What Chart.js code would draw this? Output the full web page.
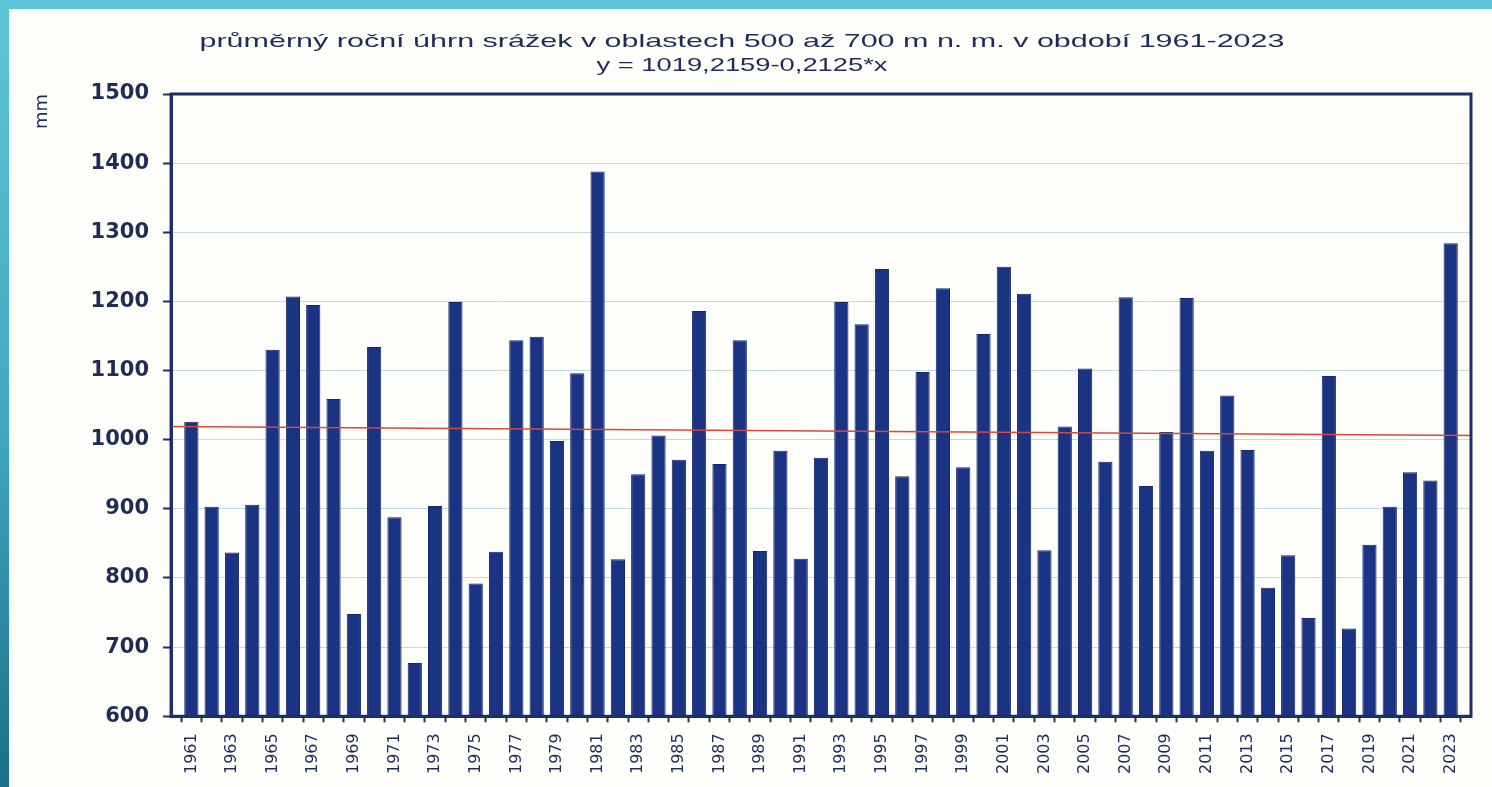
<!DOCTYPE html>
<html>
<head>
<meta charset="utf-8">
<script src="https://cdn.jsdelivr.net/npm/chart.js@4.4.0/dist/chart.umd.min.js"></script>
<style>
  html, body { margin: 0; padding: 0; }
  body {
    width: 1492px; height: 787px; overflow: hidden; position: relative;
    background: linear-gradient(180deg, #5cc5d7 0%, #3ea8bf 55%, #1c6f88 100%);
  }
  .panel { position: absolute; left: 9px; top: 9px; right: 0; bottom: 0; background: #fdfdf9; }
  canvas { position: absolute; left: 0; top: 0; }
</style>
</head>
<body>
<div class="panel"></div>
<canvas id="chart" width="1492" height="787"></canvas>
<script>
const years = [
  1961, 1962, 1963, 1964, 1965, 1966, 1967, 1968, 1969, 1970,
  1971, 1972, 1973, 1974, 1975, 1976, 1977, 1978, 1979, 1980,
  1981, 1982, 1983, 1984, 1985, 1986, 1987, 1988, 1989, 1990,
  1991, 1992, 1993, 1994, 1995, 1996, 1997, 1998, 1999, 2000,
  2001, 2002, 2003, 2004, 2005, 2006, 2007, 2008, 2009, 2010,
  2011, 2012, 2013, 2014, 2015, 2016, 2017, 2018, 2019, 2020,
  2021, 2022, 2023
];

// yearly precipitation, mm
const precip = [
  1026, 903, 837, 906, 1130, 1207, 1195, 1059, 748, 1134,
  888, 677, 904, 1199, 792, 838, 1144, 1149, 998, 1096,
  1388, 827, 950, 1006, 971, 1186, 965, 1144, 839, 984,
  828, 974, 1199, 1167, 1247, 947, 1098, 1219, 960, 1153,
  1250, 1211, 840, 1019, 1103, 968, 1206, 933, 1011, 1205,
  984, 1064, 985, 786, 833, 742, 1092, 727, 848, 903,
  953, 941, 1284
];

// trend line ends
const trendYears = [1960, 2024];
const trendValues = [1019, 1006];

const tickYears = [
  1961, 1963, 1965, 1967, 1969, 1971, 1973, 1975, 1977, 1979, 1981,
  1983, 1985, 1987, 1989, 1991, 1993, 1995, 1997, 1999, 2001, 2003,
  2005, 2007, 2009, 2011, 2013, 2015, 2017, 2019, 2021, 2023
];

const titleLines = [
  'průměrný roční úhrn srážek v oblastech 500 až 700 m n. m. v období 1961-2023',
  'y = 1019,2159-0,2125*x'
];

const navy = '#1e2f66';
const textColor = '#1f2c58';

// the source picture is stretched sideways, so the title is drawn the same way
const stretchedTitle = {
  id: 'stretchedTitle',
  afterDraw(chart) {
    const c = chart.ctx;
    const widths = [1085, 291];
    const ys = [42, 66];
    c.save();
    c.fillStyle = textColor;
    c.font = '19px "Liberation Sans", Arial, sans-serif';
    c.textAlign = 'center';
    c.textBaseline = 'middle';
    titleLines.forEach((t, i) => {
      const sx = widths[i] / c.measureText(t).width;
      c.save();
      c.translate(742, ys[i]);
      c.scale(sx, 1);
      c.fillText(t, 0, 0);
      c.restore();
    });
    c.restore();
  }
};

const frame = {
  id: 'frame',
  afterDatasetsDraw(chart) {
    const { ctx, chartArea: a } = chart;
    ctx.save();
    ctx.strokeStyle = navy;
    ctx.lineWidth = 3;
    ctx.strokeRect(a.left, a.top, a.right - a.left, a.bottom - a.top);
    ctx.restore();
  }
};

const ctx = document.getElementById('chart').getContext('2d');
new Chart(ctx, {
  type: 'bar',
  data: {
    datasets: [
      {
        type: 'line',
        data: trendYears.map((y, i) => ({ x: y, y: trendValues[i] })),
        borderColor: '#d6493c',
        borderWidth: 1.5,
        pointRadius: 0,
        order: 1
      },
      {
        type: 'bar',
        data: years.map((y, i) => ({ x: y, y: precip[i] })),
        backgroundColor: '#1a3383',
        borderColor: '#13286b',
        borderWidth: 1,
        barPercentage: 0.7,
        categoryPercentage: 1,
        order: 2
      }
    ]
  },
  options: {
    responsive: false,
    animation: false,
    layout: { padding: { left: 32, right: 21, top: 94, bottom: 2 } },
    plugins: { legend: { display: false }, tooltip: { enabled: false } },
    scales: {
      x: {
        type: 'linear',
        min: 1960,
        max: 2024,
        offset: false,
        afterBuildTicks: s => { s.ticks = years.map(v => ({ value: v })); },
        ticks: {
          autoSkip: false,
          minRotation: 90,
          maxRotation: 90,
          padding: 11,
          color: textColor,
          font: { family: '"DejaVu Sans"', size: 16 },
          callback: v => tickYears.includes(v) ? String(v) : ''
        },
        grid: { drawOnChartArea: false, tickLength: 6, tickColor: navy, tickWidth: 2 },
        border: { color: navy, width: 3 }
      },
      y: {
        min: 600,
        max: 1500,
        ticks: {
          stepSize: 100,
          padding: 14,
          color: textColor,
          font: { family: '"DejaVu Sans"', size: 21, weight: 'bold' },
          callback: v => String(v)
        },
        grid: { color: '#c6d9dc', lineWidth: 1, tickLength: 8, tickColor: navy, tickWidth: 2 },
        border: { color: navy, width: 3 },
        title: {
          display: true,
          text: 'mm',
          align: 'end',
          color: textColor,
          font: { family: '"DejaVu Sans"', size: 18 },
          padding: { top: 0, bottom: 23 }
        }
      }
    }
  },
  plugins: [frame, stretchedTitle]
});
</script>
</body>
</html>
